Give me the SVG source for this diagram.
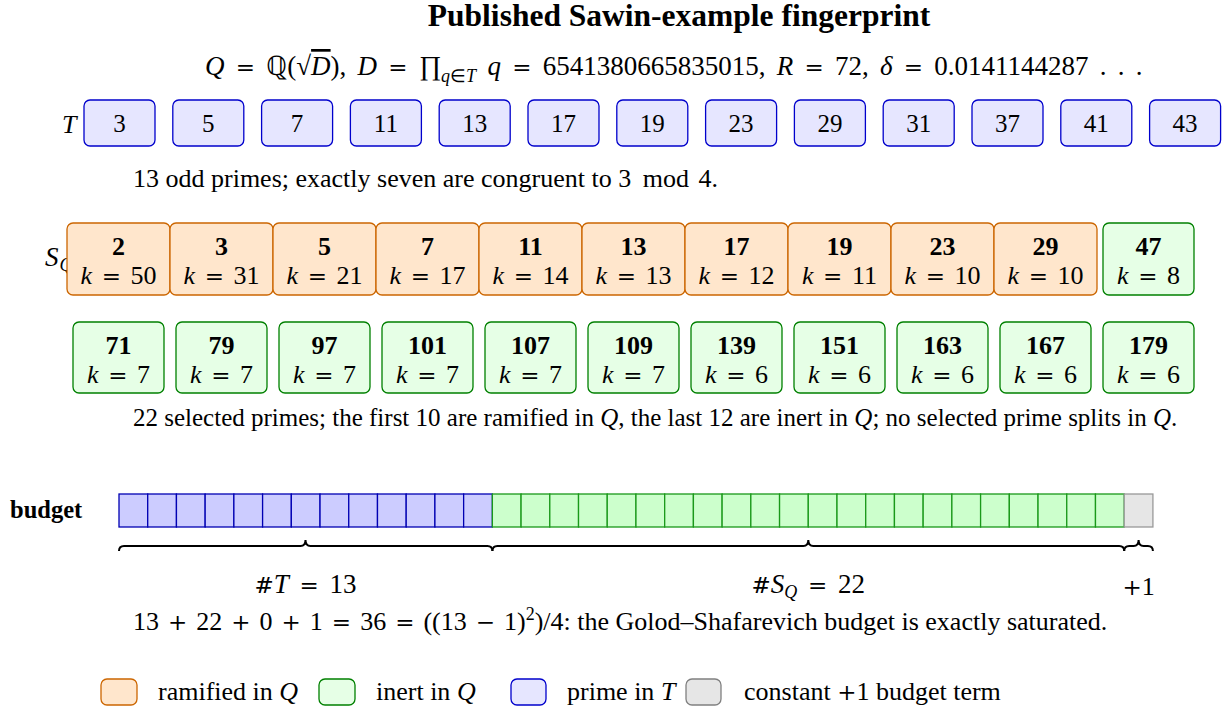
<svg xmlns="http://www.w3.org/2000/svg" width="1226" height="711" viewBox="0 0 1226 711">
<style>
text{font-family:"Liberation Serif","Times New Roman",serif;fill:#000}
.title{font-size:31.5px;font-weight:bold}
.m{font-size:26px}
.cap{font-size:26px}
.i{font-style:italic}
.b{font-weight:bold}
.op{font-family:"DejaVu Serif",serif;font-size:23px}
.tb{fill:#e6e6ff;stroke:#0000cc;stroke-width:1.3}
.rb{fill:#ffe6cc;stroke:#cc6600;stroke-width:1.3}
.gb{fill:#e6ffe6;stroke:#008000;stroke-width:1.3}
.cb{fill:#ccccff;stroke:#0000b3;stroke-width:1.3}
.cg{fill:#ccffcc;stroke:#1a991a;stroke-width:1.3}
.cx{fill:#e6e6e6;stroke:#999999;stroke-width:1.3}
.lg{fill:#e6e6e6;stroke:#808080;stroke-width:1.3}
.brace{fill:none;stroke:#000;stroke-width:2}
.num{font-size:25px;text-anchor:middle}
.bn{font-size:26px;font-weight:bold;text-anchor:middle}
.kk{font-size:26px;text-anchor:middle;word-spacing:3px}
</style>

<text class="title" x="679" y="26" text-anchor="middle">Published Sawin-example fingerprint</text>
<g id="formula">
<text x="205" y="75" style="font-size:27px;word-spacing:4.5px"><tspan class="i">Q</tspan> <tspan class="op">=</tspan> ℚ(√<tspan class="i" style="text-decoration:overline">D</tspan>), <tspan class="i">D</tspan> <tspan class="op">=</tspan> ∏<tspan class="i" font-size="18" dy="7">q</tspan><tspan font-size="18">∈</tspan><tspan class="i" font-size="18">T</tspan><tspan dy="-7"> </tspan><tspan class="i">q</tspan> <tspan class="op">=</tspan> 6541380665835015, <tspan class="i">R</tspan> <tspan class="op">=</tspan> 72, <tspan class="i">δ</tspan> <tspan class="op">=</tspan> 0.0141144287 . . .</text>
</g>

<g id="T-label"><text class="m i" x="62" y="133">T</text></g>
<g id="T-row">
<g id="t3"><rect class="tb" x="84" y="100" width="71" height="46" rx="6"/><text class="num" x="119.5" y="132">3</text></g>
<g id="t5"><rect class="tb" x="172.8" y="100" width="71" height="46" rx="6"/><text class="num" x="208.3" y="132">5</text></g>
<g id="t7"><rect class="tb" x="261.6" y="100" width="71" height="46" rx="6"/><text class="num" x="297.1" y="132">7</text></g>
<g id="t11"><rect class="tb" x="350.4" y="100" width="71" height="46" rx="6"/><text class="num" x="385.9" y="132">11</text></g>
<g id="t13"><rect class="tb" x="439.2" y="100" width="71" height="46" rx="6"/><text class="num" x="474.7" y="132">13</text></g>
<g id="t17"><rect class="tb" x="528" y="100" width="71" height="46" rx="6"/><text class="num" x="563.5" y="132">17</text></g>
<g id="t19"><rect class="tb" x="616.8" y="100" width="71" height="46" rx="6"/><text class="num" x="652.3" y="132">19</text></g>
<g id="t23"><rect class="tb" x="705.6" y="100" width="71" height="46" rx="6"/><text class="num" x="741.1" y="132">23</text></g>
<g id="t29"><rect class="tb" x="794.4" y="100" width="71" height="46" rx="6"/><text class="num" x="829.9" y="132">29</text></g>
<g id="t31"><rect class="tb" x="883.2" y="100" width="71" height="46" rx="6"/><text class="num" x="918.7" y="132">31</text></g>
<g id="t37"><rect class="tb" x="972" y="100" width="71" height="46" rx="6"/><text class="num" x="1007.5" y="132">37</text></g>
<g id="t41"><rect class="tb" x="1060.8" y="100" width="71" height="46" rx="6"/><text class="num" x="1096.3" y="132">41</text></g>
<g id="t43"><rect class="tb" x="1149.6" y="100" width="71" height="46" rx="6"/><text class="num" x="1185.1" y="132">43</text></g>
</g>
<text class="cap" x="133" y="187">13 odd primes; exactly seven are congruent to 3 <tspan dx="5">mod</tspan> <tspan dx="3">4.</tspan></text>

<g id="S-label"><text class="m" x="45" y="266"><tspan class="i" font-size="27">S</tspan><tspan class="i" font-size="18" dy="5" dx="1">Q</tspan></text></g>
<g id="S-row1">
<g id="s2"><rect class="rb" x="67" y="223" width="103" height="72" rx="6"/><text class="bn" x="118.5" y="255">2</text><text class="kk" x="118.5" y="284"><tspan class="i">k</tspan> <tspan class="op">=</tspan> 50</text></g>
<g id="s3"><rect class="rb" x="170" y="223" width="103" height="72" rx="6"/><text class="bn" x="221.5" y="255">3</text><text class="kk" x="221.5" y="284"><tspan class="i">k</tspan> <tspan class="op">=</tspan> 31</text></g>
<g id="s5"><rect class="rb" x="273" y="223" width="103" height="72" rx="6"/><text class="bn" x="324.5" y="255">5</text><text class="kk" x="324.5" y="284"><tspan class="i">k</tspan> <tspan class="op">=</tspan> 21</text></g>
<g id="s7"><rect class="rb" x="376" y="223" width="103" height="72" rx="6"/><text class="bn" x="427.5" y="255">7</text><text class="kk" x="427.5" y="284"><tspan class="i">k</tspan> <tspan class="op">=</tspan> 17</text></g>
<g id="s11"><rect class="rb" x="479" y="223" width="103" height="72" rx="6"/><text class="bn" x="530.5" y="255">11</text><text class="kk" x="530.5" y="284"><tspan class="i">k</tspan> <tspan class="op">=</tspan> 14</text></g>
<g id="s13"><rect class="rb" x="582" y="223" width="103" height="72" rx="6"/><text class="bn" x="633.5" y="255">13</text><text class="kk" x="633.5" y="284"><tspan class="i">k</tspan> <tspan class="op">=</tspan> 13</text></g>
<g id="s17"><rect class="rb" x="685" y="223" width="103" height="72" rx="6"/><text class="bn" x="736.5" y="255">17</text><text class="kk" x="736.5" y="284"><tspan class="i">k</tspan> <tspan class="op">=</tspan> 12</text></g>
<g id="s19"><rect class="rb" x="788" y="223" width="103" height="72" rx="6"/><text class="bn" x="839.5" y="255">19</text><text class="kk" x="839.5" y="284"><tspan class="i">k</tspan> <tspan class="op">=</tspan> 11</text></g>
<g id="s23"><rect class="rb" x="891" y="223" width="103" height="72" rx="6"/><text class="bn" x="942.5" y="255">23</text><text class="kk" x="942.5" y="284"><tspan class="i">k</tspan> <tspan class="op">=</tspan> 10</text></g>
<g id="s29"><rect class="rb" x="994" y="223" width="103" height="72" rx="6"/><text class="bn" x="1045.5" y="255">29</text><text class="kk" x="1045.5" y="284"><tspan class="i">k</tspan> <tspan class="op">=</tspan> 10</text></g>
<g id="s47"><rect class="gb" x="1103" y="223" width="91" height="72" rx="6"/><text class="bn" x="1148.5" y="255">47</text><text class="kk" x="1148.5" y="284"><tspan class="i">k</tspan> <tspan class="op">=</tspan> 8</text></g>
</g>
<g id="S-row2">
<g id="s71"><rect class="gb" x="73" y="322" width="91" height="71" rx="6"/><text class="bn" x="118.5" y="354">71</text><text class="kk" x="118.5" y="383"><tspan class="i">k</tspan> <tspan class="op">=</tspan> 7</text></g>
<g id="s79"><rect class="gb" x="176" y="322" width="91" height="71" rx="6"/><text class="bn" x="221.5" y="354">79</text><text class="kk" x="221.5" y="383"><tspan class="i">k</tspan> <tspan class="op">=</tspan> 7</text></g>
<g id="s97"><rect class="gb" x="279" y="322" width="91" height="71" rx="6"/><text class="bn" x="324.5" y="354">97</text><text class="kk" x="324.5" y="383"><tspan class="i">k</tspan> <tspan class="op">=</tspan> 7</text></g>
<g id="s101"><rect class="gb" x="382" y="322" width="91" height="71" rx="6"/><text class="bn" x="427.5" y="354">101</text><text class="kk" x="427.5" y="383"><tspan class="i">k</tspan> <tspan class="op">=</tspan> 7</text></g>
<g id="s107"><rect class="gb" x="485" y="322" width="91" height="71" rx="6"/><text class="bn" x="530.5" y="354">107</text><text class="kk" x="530.5" y="383"><tspan class="i">k</tspan> <tspan class="op">=</tspan> 7</text></g>
<g id="s109"><rect class="gb" x="588" y="322" width="91" height="71" rx="6"/><text class="bn" x="633.5" y="354">109</text><text class="kk" x="633.5" y="383"><tspan class="i">k</tspan> <tspan class="op">=</tspan> 7</text></g>
<g id="s139"><rect class="gb" x="691" y="322" width="91" height="71" rx="6"/><text class="bn" x="736.5" y="354">139</text><text class="kk" x="736.5" y="383"><tspan class="i">k</tspan> <tspan class="op">=</tspan> 6</text></g>
<g id="s151"><rect class="gb" x="794" y="322" width="91" height="71" rx="6"/><text class="bn" x="839.5" y="354">151</text><text class="kk" x="839.5" y="383"><tspan class="i">k</tspan> <tspan class="op">=</tspan> 6</text></g>
<g id="s163"><rect class="gb" x="897" y="322" width="91" height="71" rx="6"/><text class="bn" x="942.5" y="354">163</text><text class="kk" x="942.5" y="383"><tspan class="i">k</tspan> <tspan class="op">=</tspan> 6</text></g>
<g id="s167"><rect class="gb" x="1000" y="322" width="91" height="71" rx="6"/><text class="bn" x="1045.5" y="354">167</text><text class="kk" x="1045.5" y="383"><tspan class="i">k</tspan> <tspan class="op">=</tspan> 6</text></g>
<g id="s179"><rect class="gb" x="1103" y="322" width="91" height="71" rx="6"/><text class="bn" x="1148.5" y="354">179</text><text class="kk" x="1148.5" y="383"><tspan class="i">k</tspan> <tspan class="op">=</tspan> 6</text></g>
</g>
<text x="133" y="426" style="font-size:25px">22 selected primes; the first 10 are ramified in <tspan class="i">Q</tspan>, the last 12 are inert in <tspan class="i">Q</tspan>; no selected prime splits in <tspan class="i">Q</tspan>.</text>

<g id="budget">
<text class="b" font-size="24.5" x="10" y="518">budget</text>
<g id="budget-T">
<rect class="cb" x="119" y="494" width="28.72" height="33"/><rect class="cb" x="147.72" y="494" width="28.72" height="33"/><rect class="cb" x="176.44" y="494" width="28.72" height="33"/><rect class="cb" x="205.16" y="494" width="28.72" height="33"/><rect class="cb" x="233.88" y="494" width="28.72" height="33"/><rect class="cb" x="262.6" y="494" width="28.72" height="33"/><rect class="cb" x="291.32" y="494" width="28.72" height="33"/><rect class="cb" x="320.04" y="494" width="28.72" height="33"/><rect class="cb" x="348.76" y="494" width="28.72" height="33"/><rect class="cb" x="377.48" y="494" width="28.72" height="33"/><rect class="cb" x="406.2" y="494" width="28.72" height="33"/><rect class="cb" x="434.92" y="494" width="28.72" height="33"/><rect class="cb" x="463.64" y="494" width="28.72" height="33"/>
</g>
<g id="budget-S">
<rect class="cg" x="492.36" y="494" width="28.72" height="33"/><rect class="cg" x="521.08" y="494" width="28.72" height="33"/><rect class="cg" x="549.8" y="494" width="28.72" height="33"/><rect class="cg" x="578.52" y="494" width="28.72" height="33"/><rect class="cg" x="607.24" y="494" width="28.72" height="33"/><rect class="cg" x="635.96" y="494" width="28.72" height="33"/><rect class="cg" x="664.68" y="494" width="28.72" height="33"/><rect class="cg" x="693.4" y="494" width="28.72" height="33"/><rect class="cg" x="722.12" y="494" width="28.72" height="33"/><rect class="cg" x="750.84" y="494" width="28.72" height="33"/><rect class="cg" x="779.56" y="494" width="28.72" height="33"/><rect class="cg" x="808.28" y="494" width="28.72" height="33"/><rect class="cg" x="837" y="494" width="28.72" height="33"/><rect class="cg" x="865.72" y="494" width="28.72" height="33"/><rect class="cg" x="894.44" y="494" width="28.72" height="33"/><rect class="cg" x="923.16" y="494" width="28.72" height="33"/><rect class="cg" x="951.88" y="494" width="28.72" height="33"/><rect class="cg" x="980.6" y="494" width="28.72" height="33"/><rect class="cg" x="1009.32" y="494" width="28.72" height="33"/><rect class="cg" x="1038.04" y="494" width="28.72" height="33"/><rect class="cg" x="1066.76" y="494" width="28.72" height="33"/><rect class="cg" x="1095.48" y="494" width="28.72" height="33"/>
</g>
<g id="budget-one"><rect class="cx" x="1124.2" y="494" width="28.72" height="33"/></g>
</g>

<g id="braces">
<path class="brace" d="M119,551 Q119,546 124,546 L300.5,546 Q305.5,546 305.5,540 Q305.5,546 310.5,546 L487.4,546 Q492.4,546 492.4,551"/>
<path class="brace" d="M492.4,551 Q492.4,546 497.4,546 L803.3,546 Q808.3,546 808.3,540 Q808.3,546 813.3,546 L1119.2,546 Q1124.2,546 1124.2,551"/>
<path class="brace" d="M1124.2,551 Q1124.2,546 1129.2,546 L1133.6,546 Q1138.6,546 1138.6,540 Q1138.6,546 1143.6,546 L1147.9,546 Q1152.9,546 1152.9,551"/>
</g>
<g id="brace-labels">
<text x="305.5" y="593" text-anchor="middle" style="font-size:27px;word-spacing:4px"><tspan class="op">#</tspan><tspan class="i">T</tspan> <tspan class="op">=</tspan> 13</text>
<text x="808.3" y="593" text-anchor="middle" style="font-size:27px;word-spacing:4px"><tspan class="op">#</tspan><tspan class="i">S</tspan><tspan class="i" font-size="18" dy="5">Q</tspan><tspan dy="-5"> </tspan><tspan class="op">=</tspan> 22</text>
<text class="m" x="1138.6" y="595" text-anchor="middle"><tspan class="op">+</tspan>1</text>
</g>
<text class="cap" x="133" y="630"><tspan style="word-spacing:2.5px">13 <tspan class="op">+</tspan> 22 <tspan class="op">+</tspan> 0 <tspan class="op">+</tspan> 1 <tspan class="op">=</tspan> 36 <tspan class="op">=</tspan> ((13 <tspan class="op">−</tspan> 1)</tspan><tspan font-size="18" dy="-10">2</tspan><tspan dy="10">)/4: the Golod–Shafarevich budget is exactly saturated.</tspan></text>

<g id="legend">
<g id="leg-ram"><rect class="rb" x="101" y="679" width="36" height="26" rx="6"/><text class="cap" x="158" y="700">ramified in <tspan class="i">Q</tspan></text></g>
<g id="leg-inert"><rect class="gb" x="319" y="679" width="36" height="26" rx="6"/><text class="cap" x="376" y="700">inert in <tspan class="i">Q</tspan></text></g>
<g id="leg-T"><rect class="tb" x="511" y="679" width="35" height="26" rx="6"/><text class="cap" x="567" y="700">prime in <tspan class="i">T</tspan></text></g>
<g id="leg-one"><rect class="lg" x="686" y="679" width="35" height="26" rx="6"/><text class="cap" x="744" y="700">constant <tspan class="op">+</tspan>1 budget term</text></g>
</g>
</svg>
